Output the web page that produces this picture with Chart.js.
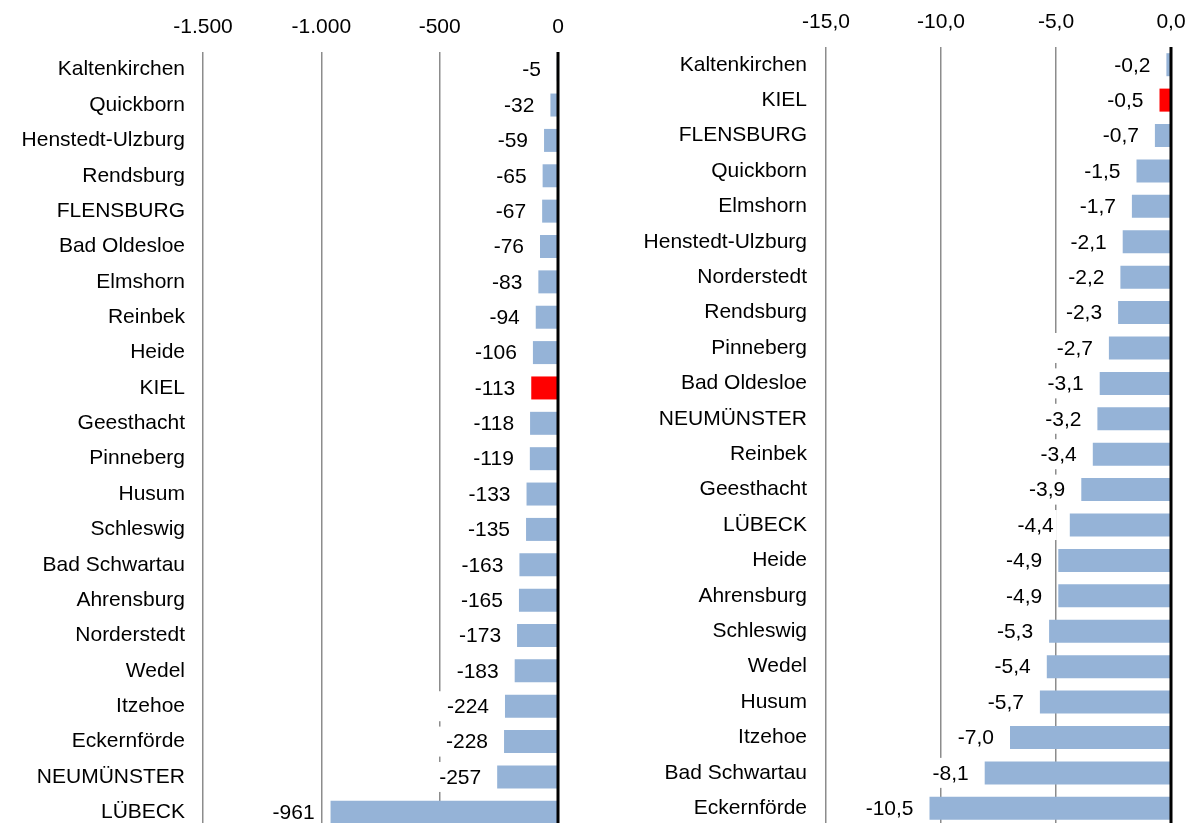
<!DOCTYPE html>
<html>
<head>
<meta charset="utf-8">
<script src="https://cdn.jsdelivr.net/npm/chart.js@4"></script>
<style>
  html, body { margin: 0; padding: 0; background: #fff; overflow: hidden; }
  #wrap { position: relative; width: 1194px; height: 823px; overflow: hidden; }
  canvas { position: absolute; top: 0; }
  #left { left: 0; }
  #right { left: 594px; }
</style>
</head>
<body>
<div id="wrap">
  <canvas id="left" width="594" height="830"></canvas>
  <canvas id="right" width="600" height="830"></canvas>
</div>
<script>
const absCities = ['Kaltenkirchen', 'Quickborn', 'Henstedt-Ulzburg', 'Rendsburg', 'FLENSBURG', 'Bad Oldesloe',
  'Elmshorn', 'Reinbek', 'Heide', 'KIEL', 'Geesthacht', 'Pinneberg', 'Husum', 'Schleswig', 'Bad Schwartau',
  'Ahrensburg', 'Norderstedt', 'Wedel', 'Itzehoe', 'Eckernförde', 'NEUMÜNSTER', 'LÜBECK'];
const absValues = [-5, -32, -59, -65, -67, -76, -83, -94, -106, -113, -118, -119, -133, -135, -163,
  -165, -173, -183, -224, -228, -257, -961];

const pctCities = ['Kaltenkirchen', 'KIEL', 'FLENSBURG', 'Quickborn', 'Elmshorn', 'Henstedt-Ulzburg',
  'Norderstedt', 'Rendsburg', 'Pinneberg', 'Bad Oldesloe', 'NEUMÜNSTER', 'Reinbek', 'Geesthacht', 'LÜBECK',
  'Heide', 'Ahrensburg', 'Schleswig', 'Wedel', 'Husum', 'Itzehoe', 'Bad Schwartau', 'Eckernförde'];
const pctValues = [-0.2, -0.5, -0.7, -1.5, -1.7, -2.1, -2.2, -2.3, -2.7, -3.1, -3.2, -3.4, -3.9, -4.4,
  -4.9, -4.9, -5.3, -5.4, -5.7, -7.0, -8.1, -10.5];

const absTicks = [-1500, 0, 500];   // min, max, step
const pctTicks = [-15, 0, 5];

const HIGHLIGHT = 'KIEL';
const FONT = '"Liberation Sans", Arial, sans-serif';

function fmtDe(v, dec) {
  const neg = v < 0;
  const parts = Math.abs(v).toFixed(dec).split('.');
  const int = parts[0].replace(/\B(?=(\d{3})+(?!\d))/g, '.');
  return (neg ? '-' : '') + int + (parts[1] ? ',' + parts[1] : '');
}

// white label boxes hide the grid, text goes on top, black zero line last
const valueLabels = {
  id: 'valueLabels',
  beforeDatasetsDraw(chart, args, opts) {
    const ctx = chart.ctx;
    const meta = chart.getDatasetMeta(0);
    const data = chart.data.datasets[0].data;
    ctx.save();
    ctx.font = '21px ' + FONT;
    ctx.fillStyle = '#fff';
    meta.data.forEach((bar, i) => {
      const text = fmtDe(data[i], opts.decimals);
      const w = ctx.measureText(text).width;
      const right = bar.x - 16;
      ctx.fillRect(right - w - 8, bar.y - 15, w + 11, 30);
    });
    ctx.restore();
  },
  afterDatasetsDraw(chart, args, opts) {
    const ctx = chart.ctx;
    const meta = chart.getDatasetMeta(0);
    const data = chart.data.datasets[0].data;
    const area = chart.chartArea;
    ctx.save();
    ctx.font = '21px ' + FONT;
    ctx.fillStyle = '#000';
    ctx.textAlign = 'right';
    ctx.textBaseline = 'middle';
    meta.data.forEach((bar, i) => {
      ctx.fillText(fmtDe(data[i], opts.decimals), bar.x - 16, bar.y + 1);
    });
    const x0 = chart.scales.x.getPixelForValue(0);
    ctx.strokeStyle = '#000';
    ctx.lineWidth = 3;
    ctx.beginPath();
    ctx.moveTo(x0, area.top);
    ctx.lineTo(x0, area.bottom);
    ctx.stroke();
    ctx.restore();
  }
};

function makeChart(id, labels, values, ticks, decimals, axisTop, axisLeft, labelPad, padRight, padBottom) {
  return new Chart(document.getElementById(id), {
    type: 'bar',
    data: {
      labels,
      datasets: [{
        data: values,
        backgroundColor: labels.map(l => l === HIGHLIGHT ? '#ff0000' : '#95b3d7'),
        borderWidth: 0,
        barPercentage: 0.65,
        categoryPercentage: 1
      }]
    },
    options: {
      indexAxis: 'y',
      responsive: false,
      animation: false,
      layout: { padding: { top: 0, left: 0, right: padRight, bottom: padBottom } },
      scales: {
        x: {
          position: 'top',
          min: ticks[0],
          max: ticks[1],
          afterFit(scale) {
            scale.height = axisTop;
            scale.paddingLeft = 0;
            scale.paddingRight = 0;
          },
          ticks: {
            stepSize: ticks[2],
            padding: 12,
            color: '#000',
            font: { family: FONT, size: 21 },
            callback: v => fmtDe(v, decimals)
          },
          grid: { color: '#8c8c8c', lineWidth: 1.5, drawTicks: false },
          border: { display: false }
        },
        y: {
          afterFit(scale) {
            scale.width = axisLeft;
            scale.paddingTop = 0;
            scale.paddingBottom = 0;
          },
          ticks: {
            padding: labelPad,
            color: '#000',
            autoSkip: false,
            font: { family: FONT, size: 21 }
          },
          grid: { display: false, drawTicks: false },
          border: { display: false }
        }
      },
      plugins: {
        legend: { display: false },
        tooltip: { enabled: false },
        valueLabels: { decimals }
      }
    },
    plugins: [valueLabels]
  });
}

makeChart('left', absCities, absValues, absTicks, 0, 52, 203, 18, 36, 0);
makeChart('right', pctCities, pctValues, pctTicks, 1, 47, 232, 19, 23, 4);
</script>
</body>
</html>
